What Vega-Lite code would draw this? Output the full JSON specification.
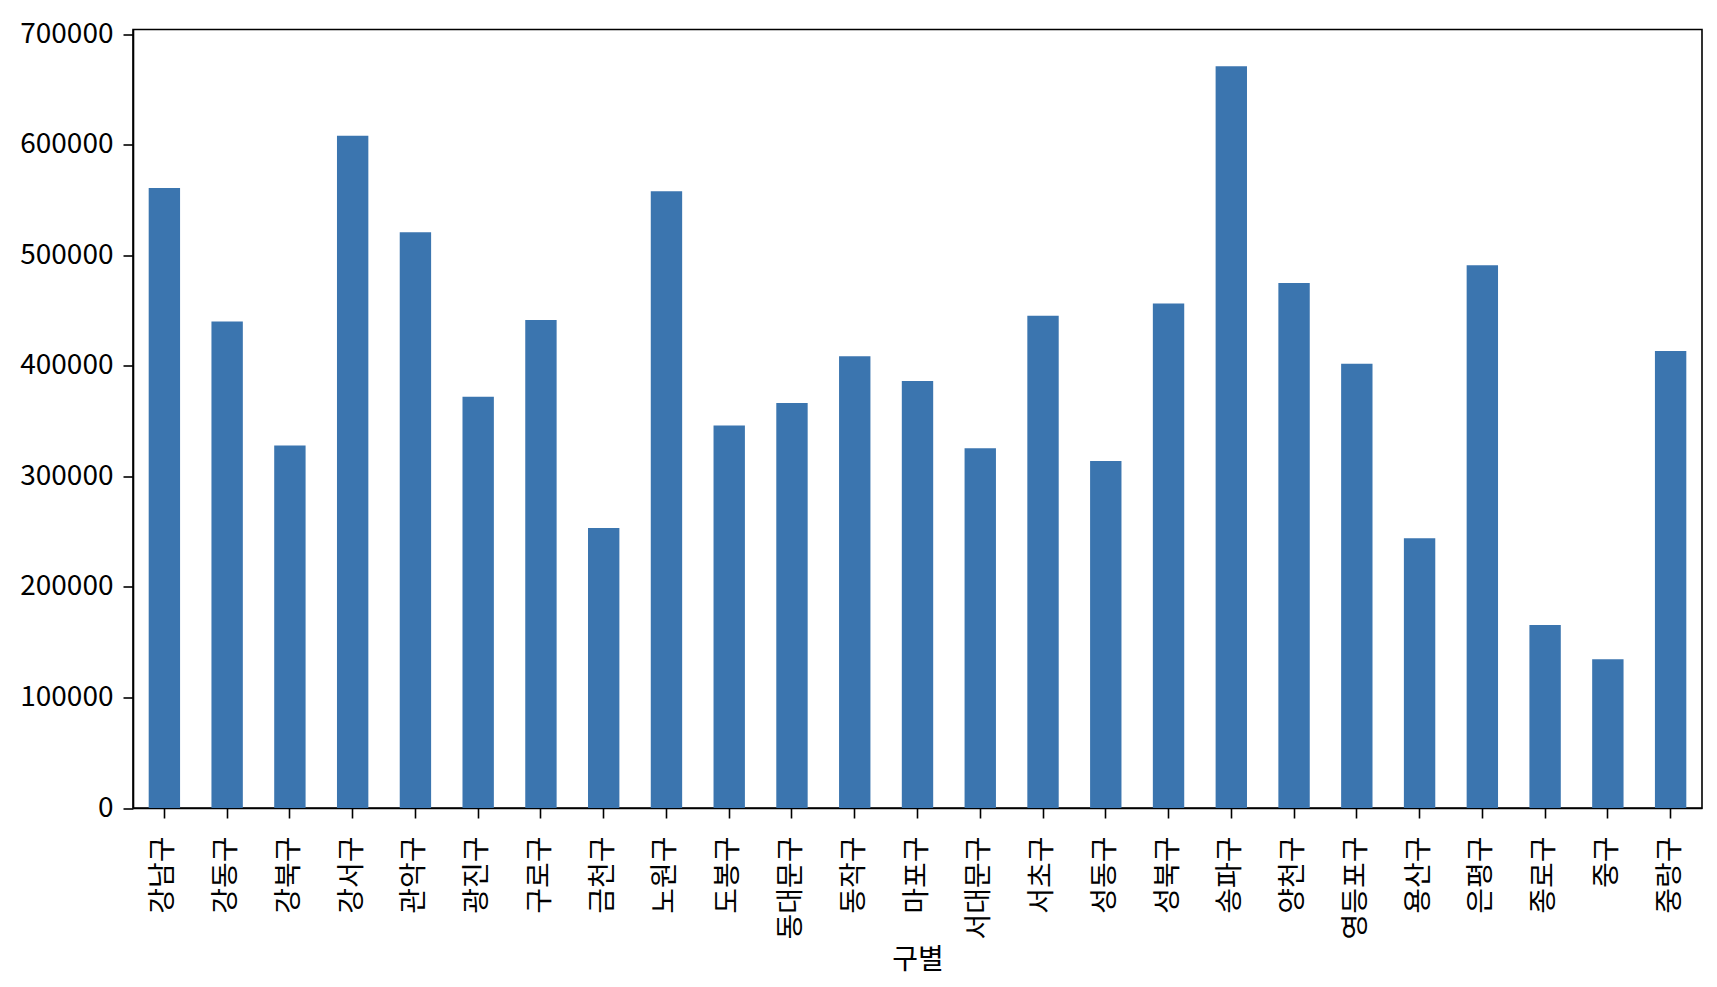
{
  "$schema": "https://vega.github.io/schema/vega-lite/v6.json",
  "autosize": {"type": "none"},
  "padding": {"left": 133, "top": 29.5, "right": 15, "bottom": 180},
  "width": 1569,
  "height": 778.5,
  "background": "white",
  "config": {
    "font": "Noto Sans CJK KR",
    "view": {"stroke": "#000000", "strokeWidth": 1.6},
    "axis": {
      "domainColor": "#000000", "domainWidth": 1.6,
      "tickColor": "#000000", "tickWidth": 1.6, "tickSize": 10,
      "labelColor": "#000000", "labelFont": "Noto Sans CJK KR", "labelFontSize": 28,
      "titleColor": "#000000", "titleFont": "Noto Sans CJK KR", "titleFontSize": 28, "titleFontWeight": "normal",
      "grid": false
    }
  },
  "data": {
    "values": [
      {"구별": "강남구", "인구수": 561052},
      {"구별": "강동구", "인구수": 440359},
      {"구별": "강북구", "인구수": 328002},
      {"구별": "강서구", "인구수": 608255},
      {"구별": "관악구", "인구수": 520929},
      {"구별": "광진구", "인구수": 372164},
      {"구별": "구로구", "인구수": 441559},
      {"구별": "금천구", "인구수": 253491},
      {"구별": "노원구", "인구수": 558075},
      {"구별": "도봉구", "인구수": 346234},
      {"구별": "동대문구", "인구수": 366500},
      {"구별": "동작구", "인구수": 408839},
      {"구별": "마포구", "인구수": 386500},
      {"구별": "서대문구", "인구수": 325500},
      {"구별": "서초구", "인구수": 445401},
      {"구별": "성동구", "인구수": 314000},
      {"구별": "성북구", "인구수": 456500},
      {"구별": "송파구", "인구수": 671173},
      {"구별": "양천구", "인구수": 475018},
      {"구별": "영등포구", "인구수": 402000},
      {"구별": "용산구", "인구수": 244203},
      {"구별": "은평구", "인구수": 491202},
      {"구별": "종로구", "인구수": 165500},
      {"구별": "중구", "인구수": 134593},
      {"구별": "중랑구", "인구수": 413500}
    ]
  },
  "mark": {"type": "bar", "color": "#3b75af"},
  "encoding": {
    "x": {
      "field": "구별", "type": "nominal", "sort": null,
      "scale": {"paddingInner": 0.5, "paddingOuter": 0.25},
      "axis": {"labelAngle": -90, "labelPadding": 18, "title": "구별", "titlePadding": 7}
    },
    "y": {
      "field": "인구수", "type": "quantitative",
      "scale": {"domain": [0, 704500], "nice": false, "zero": true},
      "axis": {"values": [0, 100000, 200000, 300000, 400000, 500000, 600000, 700000], "format": "d", "title": null, "labelPadding": 10}
    }
  }
}
